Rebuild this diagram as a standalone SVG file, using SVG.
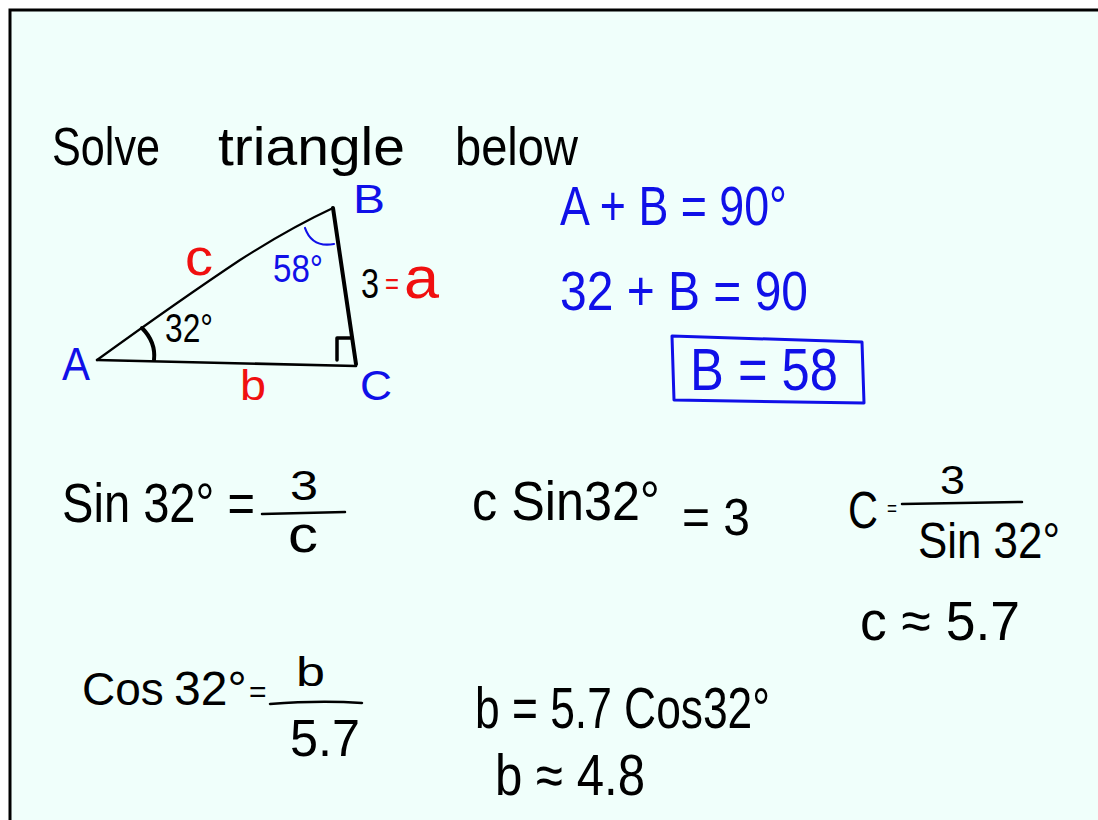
<svg xmlns="http://www.w3.org/2000/svg" width="1098" height="820" viewBox="0 0 1098 820">
<style>
text{font-family:"Liberation Sans",Arial,sans-serif}
.k{fill:#000}
.bl{fill:#1010e8}
.r{fill:#f01010}
.ln{stroke:#000;fill:none;stroke-linecap:round;stroke-linejoin:round}
.blin{stroke:#1010e8;fill:none;stroke-linecap:round;stroke-linejoin:round}
</style>
<rect x="0" y="0" width="1098" height="820" fill="#ffffff"/>
<rect x="10" y="10" width="1100" height="820" fill="#f0fffb" stroke="#000" stroke-width="3"/>

<g id="title">
<text class="k" x="52" y="165" font-size="54" textLength="108" lengthAdjust="spacingAndGlyphs">Solve</text>
<text class="k" x="218" y="165" font-size="54" textLength="187" lengthAdjust="spacingAndGlyphs">triangle</text>
<text class="k" x="455" y="165" font-size="54" textLength="123" lengthAdjust="spacingAndGlyphs">below</text>
</g>

<g id="triangle">
<path class="ln" d="M97,360 Q180,300 240,260 Q290,228 333,208" stroke-width="2.2"/>
<path class="ln" d="M333,208 L356,364" stroke-width="4"/>
<path class="ln" d="M97,360 L356,366" stroke-width="2.6"/>
<path class="ln" d="M337,360 L337,338 L352,338" stroke-width="3.5"/>
<path class="ln" d="M142,328 Q156,342 154,360" stroke-width="4"/>
<path class="blin" d="M305,228 Q312,248 334,244" stroke-width="2.2"/>
<text class="bl" x="62" y="380" font-size="46" textLength="28" lengthAdjust="spacingAndGlyphs">A</text>
<text class="bl" x="353" y="213" font-size="40" textLength="32" lengthAdjust="spacingAndGlyphs">B</text>
<text class="bl" x="360" y="400" font-size="42" textLength="32" lengthAdjust="spacingAndGlyphs">C</text>
<text class="r" x="185" y="275" font-size="52" textLength="28" lengthAdjust="spacingAndGlyphs">c</text>
<text class="r" x="240" y="400" font-size="42" textLength="26" lengthAdjust="spacingAndGlyphs">b</text>
<text class="bl" x="273" y="282" font-size="38" textLength="50" lengthAdjust="spacingAndGlyphs">58°</text>
<text class="k" x="165" y="342" font-size="40" textLength="48" lengthAdjust="spacingAndGlyphs">32°</text>
<text class="k" x="361" y="298" font-size="42" textLength="18" lengthAdjust="spacingAndGlyphs">3</text>
<text class="r" x="385" y="294" font-size="30" textLength="14" lengthAdjust="spacingAndGlyphs">=</text>
<text class="r" x="404" y="298" font-size="60" textLength="35" lengthAdjust="spacingAndGlyphs">a</text>
</g>

<g id="angle-sum">
<text class="bl" x="560" y="225" font-size="56" textLength="227" lengthAdjust="spacingAndGlyphs">A + B = 90°</text>
<text class="bl" x="560" y="310" font-size="56" textLength="248" lengthAdjust="spacingAndGlyphs">32 + B = 90</text>
<path class="blin" d="M672,336 L862,342 L864,403 L674,400 Z" stroke-width="3"/>
<text class="bl" x="690" y="390" font-size="60" textLength="148" lengthAdjust="spacingAndGlyphs">B = 58</text>
</g>

<g id="sine-eq">
<text class="k" x="62" y="522" font-size="56" textLength="193" lengthAdjust="spacingAndGlyphs">Sin 32° =</text>
<path class="ln" d="M262,514 L345,512" stroke-width="2.5"/>
<text class="k" x="290" y="500" font-size="42" textLength="28" lengthAdjust="spacingAndGlyphs">3</text>
<text class="k" x="288" y="552" font-size="52" textLength="30" lengthAdjust="spacingAndGlyphs">c</text>
</g>

<g id="sine-mult">
<text class="k" x="472" y="520" font-size="56" textLength="188" lengthAdjust="spacingAndGlyphs">c Sin32°</text>
<text class="k" x="682" y="535" font-size="52" textLength="68" lengthAdjust="spacingAndGlyphs">= 3</text>
</g>

<g id="c-solve">
<text class="k" x="848" y="528" font-size="52" textLength="30" lengthAdjust="spacingAndGlyphs">C</text>
<text class="k" x="887" y="516" font-size="22" textLength="10" lengthAdjust="spacingAndGlyphs">=</text>
<path class="ln" d="M902,504 L1022,502" stroke-width="2.5"/>
<text class="k" x="940" y="494" font-size="40" textLength="25" lengthAdjust="spacingAndGlyphs">3</text>
<text class="k" x="918" y="558" font-size="50" textLength="142" lengthAdjust="spacingAndGlyphs">Sin 32°</text>
<text class="k" x="860" y="640" font-size="56" textLength="160" lengthAdjust="spacingAndGlyphs">c ≈ 5.7</text>
</g>

<g id="cos-eq">
<text class="k" x="82" y="705" font-size="46">Cos</text>
<text class="k" x="174" y="705" font-size="48">32°</text>
<text class="k" x="249" y="702" font-size="30">=</text>
<path class="ln" d="M270,704 Q320,700 362,703" stroke-width="2.5"/>
<text class="k" x="296" y="686" font-size="40" textLength="29" lengthAdjust="spacingAndGlyphs">b</text>
<text class="k" x="290" y="756" font-size="52" textLength="70" lengthAdjust="spacingAndGlyphs">5.7</text>
</g>

<g id="b-solve">
<text class="k" x="475" y="728" font-size="58" textLength="295" lengthAdjust="spacingAndGlyphs">b = 5.7 Cos32°</text>
<text class="k" x="495" y="795" font-size="58" textLength="150" lengthAdjust="spacingAndGlyphs">b ≈ 4.8</text>
</g>
</svg>
